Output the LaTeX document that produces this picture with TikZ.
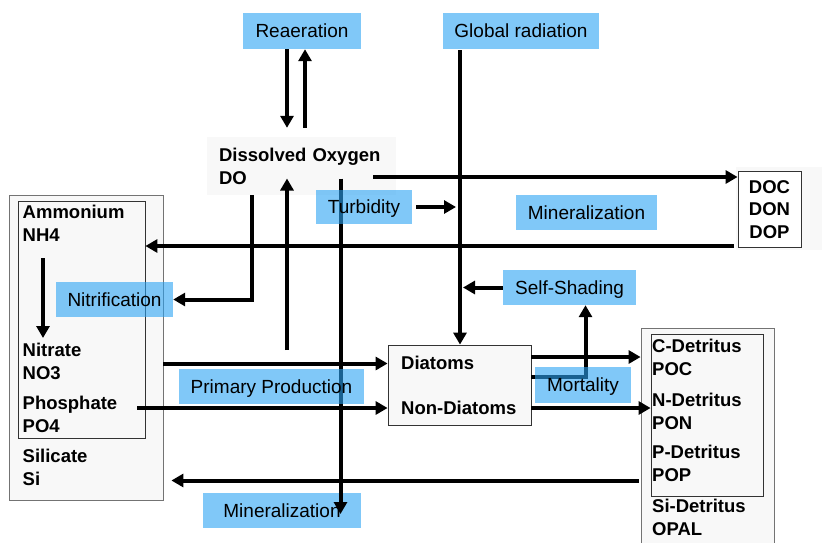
\documentclass[tikz,border=0pt]{standalone}
\usepackage{fontspec}
\setmainfont{Liberation Sans}
\usetikzlibrary{arrows.meta}
\definecolor{procblue}{RGB}{43,163,243}
\definecolor{boxgray}{RGB}{248,248,248}
\tikzset{
  proc/.style={fill=procblue, fill opacity=0.6, text opacity=1, inner sep=0pt,
    font=\fontsize{19}{22}\selectfont, text height=13.6pt, text depth=0pt},
  poolbox/.style={draw=black!55, fill=boxgray, line width=0.8pt, inner sep=0pt},
  framebox/.style={draw=black!80, line width=0.8pt, inner sep=0pt},
  pool/.style={font=\bfseries\fontsize{18.5}{23}\selectfont, align=left, inner sep=0pt, anchor=west},
  flow/.style={line width=4pt, -{Triangle[length=12pt,width=13pt]}}
}
\begin{document}
\begin{tikzpicture}[x=1pt,y=-1pt]
\useasboundingbox (0,0) rectangle (822,542);
\clip (0,0) rectangle (822,542);

% compartments
\fill[boxgray] (736,167) rectangle (822,250);
\node[poolbox, minimum width=154pt, minimum height=305pt] (pools) at (86,347.5) {};
\node[framebox, minimum width=127pt, minimum height=237pt] (npbox) at (81.5,319.5) {};
\node[poolbox, minimum width=133pt, minimum height=218pt] (detO) at (707.5,437) {};
\node[framebox, minimum width=112pt, minimum height=162pt] (detI) at (707,415) {};
\node[fill=boxgray, minimum width=189pt, minimum height=58pt, inner ysep=0pt, inner xsep=12pt,
      text width=165pt, align=left, font=\bfseries\fontsize{18.5}{23}\selectfont] (do) at (301.5,166) {Dissolved Oxygen\\DO};
\node[framebox, fill=white, minimum width=63pt, minimum height=76pt, align=center,
      font=\bfseries\fontsize{18.5}{22.5}\selectfont] (doc) at (769.5,209.5) {DOC\\DON\\DOP};
\node[framebox, fill=boxgray, minimum width=143pt, minimum height=80pt] (dia) at (459.5,385) {};

% pool labels
\node[pool] (nh4) at (22.5,223.5) {Ammonium\\NH4};
\node[pool] (no3) at (22.5,361.5) {Nitrate\\NO3};
\node[pool] (po4) at (22.5,414.5) {Phosphate\\PO4};
\node[pool] (si) at (22.5,467.5) {Silicate\\Si};
\node[pool] (diat) at (401,363) {Diatoms};
\node[pool] (ndiat) at (401,408) {Non-Diatoms};
\node[pool] (poc) at (652,357.5) {C-Detritus\\POC};
\node[pool] (pon) at (652,411.5) {N-Detritus\\PON};
\node[pool] (pop) at (652,463.5) {P-Detritus\\POP};
\node[pool] (opal) at (652,517) {Si-Detritus\\OPAL};

% process boxes
\node[proc, minimum width=118pt, minimum height=36pt] (rea) at (302,31) {Reaeration};
\node[proc, minimum width=156pt, minimum height=36pt] (glob) at (521,31) {Global radiation};
\node[proc, minimum width=158pt, minimum height=35pt] (minL) at (282,510.5) {Mineralization};
\node[proc, minimum width=117pt, minimum height=35pt] (nit) at (114.5,299.5) {Nitrification};

% routing columns and rows
\coordinate (xReaDown) at (287,0);
\coordinate (xReaUp) at (305,0);
\coordinate (xRad) at (460,0);
\coordinate (xNit) at (251.5,0);
\coordinate (xMin) at (340.5,0);
\coordinate (xPO4) at (137,0);
\coordinate (xSelf) at (585.5,0);
\coordinate (xDOout) at (373,0);
\coordinate (xDOCin) at (734,0);
\coordinate (xNH4arr) at (43,0);
\coordinate (yDOline) at (0,177);
\coordinate (yNH4) at (0,246);
\coordinate (yO2top) at (0,178.5);
\coordinate (yProdLow) at (0,350);
\coordinate (yNO3) at (0,363.5);
\coordinate (yPO4) at (0,408);
\coordinate (yPOC) at (0,357);
\coordinate (yMort) at (0,377);
\coordinate (ySi) at (0,480.5);
\coordinate (yMinTip) at (0,514);
\coordinate (yNitA) at (0,258);
\coordinate (yNitB) at (0,338);

% fluxes
\draw[flow, shorten >=9pt] (rea.south -| xReaDown) -- (xReaDown |- do.north);
\draw[flow, shorten <=9pt] (xReaUp |- do.north) -- (rea.south -| xReaUp);
\draw[flow] (xDOout |- yDOline) -- (doc.west |- yDOline);
\draw[flow, shorten <=1pt] (glob.south -| xRad) -- (xRad |- dia.north);
\draw[flow] (xDOCin |- yNH4) -- (npbox.east |- yNH4);
\draw[flow] (xNit |- do.south) -- (xNit |- nit.east) -- (nit.east);
\draw[flow] (xReaDown |- yProdLow) -- (xReaDown |- yO2top);
\draw[flow] (xMin |- yO2top) -- (xMin |- yMinTip);
\draw[flow] (pools.east |- yNO3) -- (dia.west |- yNO3);
\draw[flow] (xPO4 |- yPO4) -- (dia.west |- yPO4);
\draw[flow] (xNH4arr |- yNitA) -- (xNH4arr |- yNitB);
\draw[flow] (dia.east |- yPOC) -- (detO.west |- yPOC);
\draw[flow] (dia.east |- yPO4) -- (detI.west |- yPO4);
\draw[flow, shorten <=2pt, shorten >=8pt] (detO.west |- ySi) -- (pools.east |- ySi);

% process boxes over the flux lines
\node[proc, minimum width=96pt, minimum height=34pt] (turb) at (364,207) {Turbidity};
\node[proc, minimum width=141pt, minimum height=35pt] (minU) at (586.5,212.5) {Mineralization};
\node[proc, minimum width=185pt, minimum height=35pt] (pp) at (271.5,386.5) {Primary Production};
\node[proc, minimum width=133pt, minimum height=35pt] (ss) at (569.5,287.5) {Self-Shading};

\draw[flow, shorten <=4pt, shorten >=4pt] (turb.east) -- (turb.east -| xRad);
\draw[flow, shorten >=3pt] (ss.west) -- (ss.west -| xRad);
\draw[flow] (dia.east |- yMort) -- (xSelf |- yMort) -- (xSelf |- ss.south);

\node[proc, minimum width=96pt, minimum height=36pt] (mort) at (583,385) {Mortality};
\end{tikzpicture}
\end{document}
